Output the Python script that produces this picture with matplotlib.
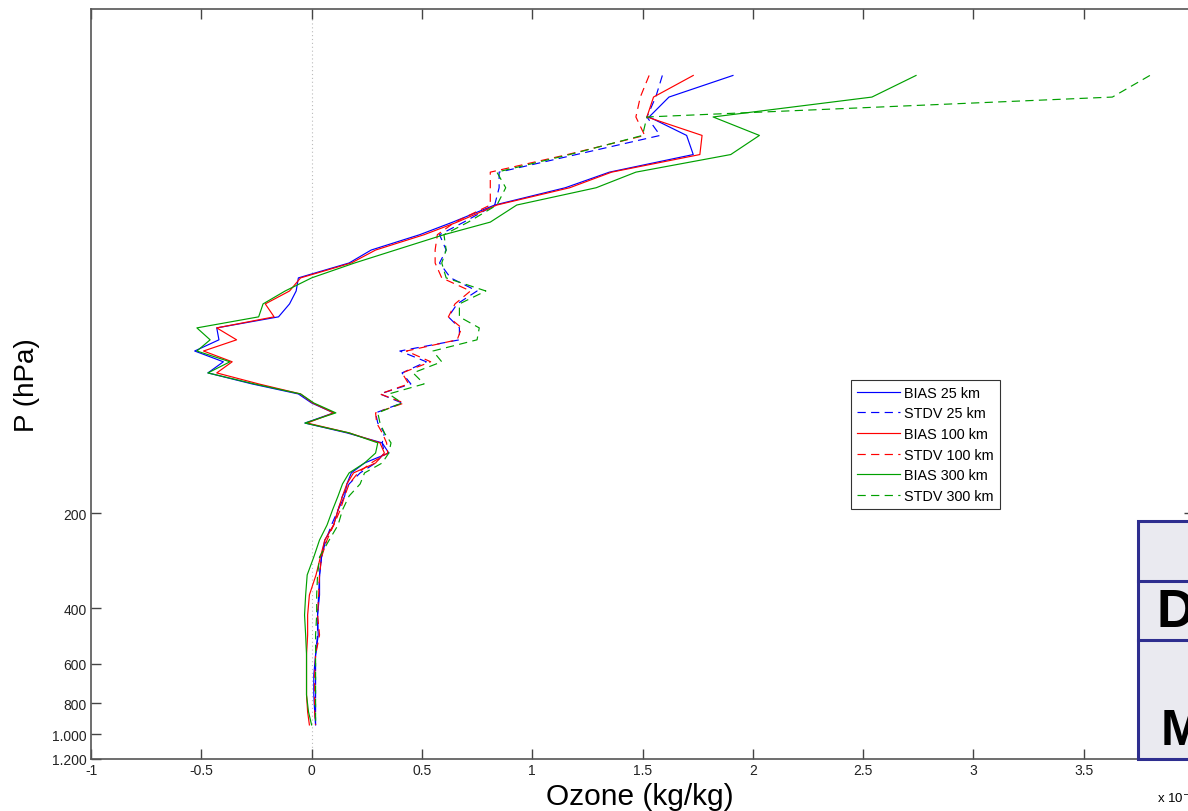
import matplotlib
matplotlib.use("Agg")
import matplotlib.pyplot as plt
from matplotlib.patches import Rectangle
from matplotlib.lines import Line2D

plt.rcParams['font.family'] = ['Liberation Sans', 'DejaVu Sans']

# Pressure levels (hPa), shared by every profile
pressure = [8.2, 9.6, 11.1, 12.7, 14.6, 16.6, 18.6, 21.1, 23.9, 26.2,
            29.3, 32.2, 35.9, 39.5, 43.4, 47.7, 51.7, 56.4, 61.2, 66.2,
            71.8, 77.8, 83.7, 89.4, 96.1, 103.5, 111.2, 119.6, 128.8, 138.5,
            148.9, 161.4, 176.2, 195.0, 217.7, 242.8, 274.9, 313.4, 362.7, 419.8,
            485.7, 562.0, 650.0, 752.0, 851.0, 936.0]

# Ozone statistics in units of 1e-7 kg/kg
bias_25 = [1.91, 1.62, 1.53, 1.70, 1.73, 1.35, 1.15, 0.83, 0.64, 0.49,
           0.27, 0.17, -0.06, -0.07, -0.10, -0.15, -0.43, -0.42, -0.53, -0.40,
           -0.47, -0.27, -0.06, 0.00, 0.10, -0.03, 0.16, 0.32, 0.35, 0.24,
           0.18, 0.16, 0.15, 0.12, 0.10, 0.06, 0.045, 0.036, 0.036, 0.027,
           0.03, 0.018, 0.01, 0.01, 0.014, 0.018]
stdv_25 = [1.59, 1.56, 1.52, 1.58, 1.20, 0.85, 0.85, 0.83, 0.69, 0.58,
           0.61, 0.58, 0.63, 0.75, 0.66, 0.62, 0.67, 0.67, 0.40, 0.52,
           0.41, 0.45, 0.31, 0.41, 0.29, 0.30, 0.33, 0.32, 0.33, 0.29,
           0.22, 0.17, 0.14, 0.12, 0.09, 0.065, 0.045, 0.036, 0.032, 0.027,
           0.027, 0.018, 0.018, 0.018, 0.018, 0.018]
bias_100 = [1.73, 1.55, 1.52, 1.77, 1.76, 1.36, 1.17, 0.84, 0.66, 0.51,
            0.29, 0.18, -0.05, -0.10, -0.21, -0.17, -0.43, -0.34, -0.49, -0.36,
            -0.43, -0.24, -0.05, 0.005, 0.10, -0.02, 0.17, 0.31, 0.33, 0.29,
            0.19, 0.16, 0.14, 0.12, 0.10, 0.06, 0.04, 0.02, -0.01, -0.018,
            -0.018, -0.023, -0.023, -0.023, -0.018, -0.01]
stdv_100 = [1.53, 1.49, 1.47, 1.51, 1.16, 0.81, 0.81, 0.81, 0.65, 0.57,
            0.56, 0.56, 0.59, 0.72, 0.65, 0.62, 0.68, 0.66, 0.43, 0.54,
            0.41, 0.44, 0.31, 0.42, 0.29, 0.295, 0.32, 0.34, 0.345, 0.27,
            0.21, 0.17, 0.15, 0.13, 0.10, 0.07, 0.045, 0.036, 0.032, 0.027,
            0.036, 0.018, 0.014, 0.014, 0.014, 0.018]
bias_300 = [2.74, 2.54, 1.82, 2.03, 1.90, 1.47, 1.29, 0.93, 0.81, 0.60,
            0.38, 0.195, 0.00, -0.12, -0.22, -0.24, -0.52, -0.46, -0.52, -0.37,
            -0.47, -0.26, -0.05, 0.01, 0.11, -0.03, 0.17, 0.30, 0.29, 0.24,
            0.17, 0.14, 0.12, 0.095, 0.07, 0.036, 0.01, -0.02, -0.027, -0.032,
            -0.027, -0.023, -0.023, -0.023, -0.014, 0.0]
stdv_300 = [3.80, 3.63, 1.52, 1.50, 1.17, 0.84, 0.88, 0.84, 0.71, 0.60,
            0.61, 0.59, 0.61, 0.79, 0.67, 0.67, 0.76, 0.75, 0.55, 0.59,
            0.46, 0.51, 0.35, 0.41, 0.30, 0.31, 0.33, 0.36, 0.35, 0.32,
            0.24, 0.22, 0.17, 0.14, 0.12, 0.08, 0.036, 0.027, 0.023, 0.023,
            0.018, 0.018, 0.018, 0.018, 0.018, 0.018]

labels = ['BIAS 25 km', 'STDV 25 km', 'BIAS 100 km', 'STDV 100 km',
          'BIAS 300 km', 'STDV 300 km']
xticks = [-1, -0.5, 0, 0.5, 1, 1.5, 2, 2.5, 3, 3.5, 4]
xticklabels = ['-1', '-0.5', '0', '0.5', '1', '1.5', '2', '2.5', '3', '3.5', '']
yticks = [200, 400, 600, 800, 1000, 1200]
yticklabels = ['200', '400', '600', '800', '1.000', '1.200']

W, H = 1188, 812
fig = plt.figure(figsize=(W / 100, H / 100), dpi=100)
fig.patch.set_facecolor('white')

# axes frame reaches past the right edge of the canvas
ax = fig.add_axes([91 / W, 1 - 760 / H, (1194 - 91) / W, 750 / H])

blue, red, green = '#0000FF', '#FF0000', '#00A000'
series = [(bias_25, blue, '-'), (stdv_25, blue, '--'),
          (bias_100, red, '-'), (stdv_100, red, '--'),
          (bias_300, green, '-'), (stdv_300, green, '--')]
for (vals, col, ls), lab in zip(series, labels):
    kw = dict(color=col, lw=0.85, label=lab)
    if ls == '--':
        kw['dashes'] = (7, 4.5)
    ax.plot(vals, pressure, **kw)

# zero reference line
ax.axvline(0, color='#BBBBBB', lw=0.8, ls=(0, (1, 2.5)), zorder=0)

ax.set_yscale('log')
ax.set_ylim(1200, 5.05)
ax.set_xlim(-1, 4)
ax.set_xticks(xticks)
ax.set_xticklabels(xticklabels)
ax.set_yticks(yticks)
ax.set_yticklabels(yticklabels)
ax.yaxis.set_minor_locator(matplotlib.ticker.NullLocator())
ax.tick_params(axis='both', which='major', direction='in', length=7,
               width=1.0, color='#444444', labelsize=10, labelcolor='#222222',
               top=True, right=True, pad=3)
for sp in ax.spines.values():
    sp.set_color('#555555')
    sp.set_linewidth(1.2)

leg = ax.legend(loc='upper left',
                bbox_to_anchor=((851 - 91) / 1103, 1 - (381 - 10) / 750),
                borderaxespad=0, fontsize=10.4, frameon=True, fancybox=False,
                edgecolor='black', handlelength=3.0, handletextpad=0.3,
                labelspacing=0.46, borderpad=0.4)
leg.get_frame().set_linewidth(0.8)

fig.text(640 / W, 1 - 797 / H, 'Ozone (kg/kg)', ha='center', va='center', fontsize=21.5)
fig.text(27 / W, 1 - 385 / H, 'P (hPa)', ha='center', va='center', rotation=90, fontsize=20)
fig.text(1157 / W, 1 - 803 / H, 'x 10$^{-7}$', ha='left', va='baseline', fontsize=9.5)

# panel overlapping the lower right corner
bx0 = 1138 / W
box = Rectangle((bx0, 1 - 760 / H), 0.2, (760 - 522) / H, transform=fig.transFigure,
                facecolor='#EAEAF0', edgecolor='#2E2E8F', lw=2.2, zorder=5)
fig.patches.append(box)
for yy in (582, 641):
    fig.lines.append(Line2D([bx0, 1.05], [1 - yy / H, 1 - yy / H], transform=fig.transFigure,
                            color='#2E2E8F', lw=2.2, zorder=6))
fig.text(1156 / W, 1 - 613 / H, 'D', ha='left', va='center', fontsize=38,
         fontweight='bold', zorder=7)
fig.text(1161 / W, 1 - 732 / H, 'M', ha='left', va='center', fontsize=36,
         fontweight='bold', zorder=7)

fig.savefig('out.png', dpi=100)
